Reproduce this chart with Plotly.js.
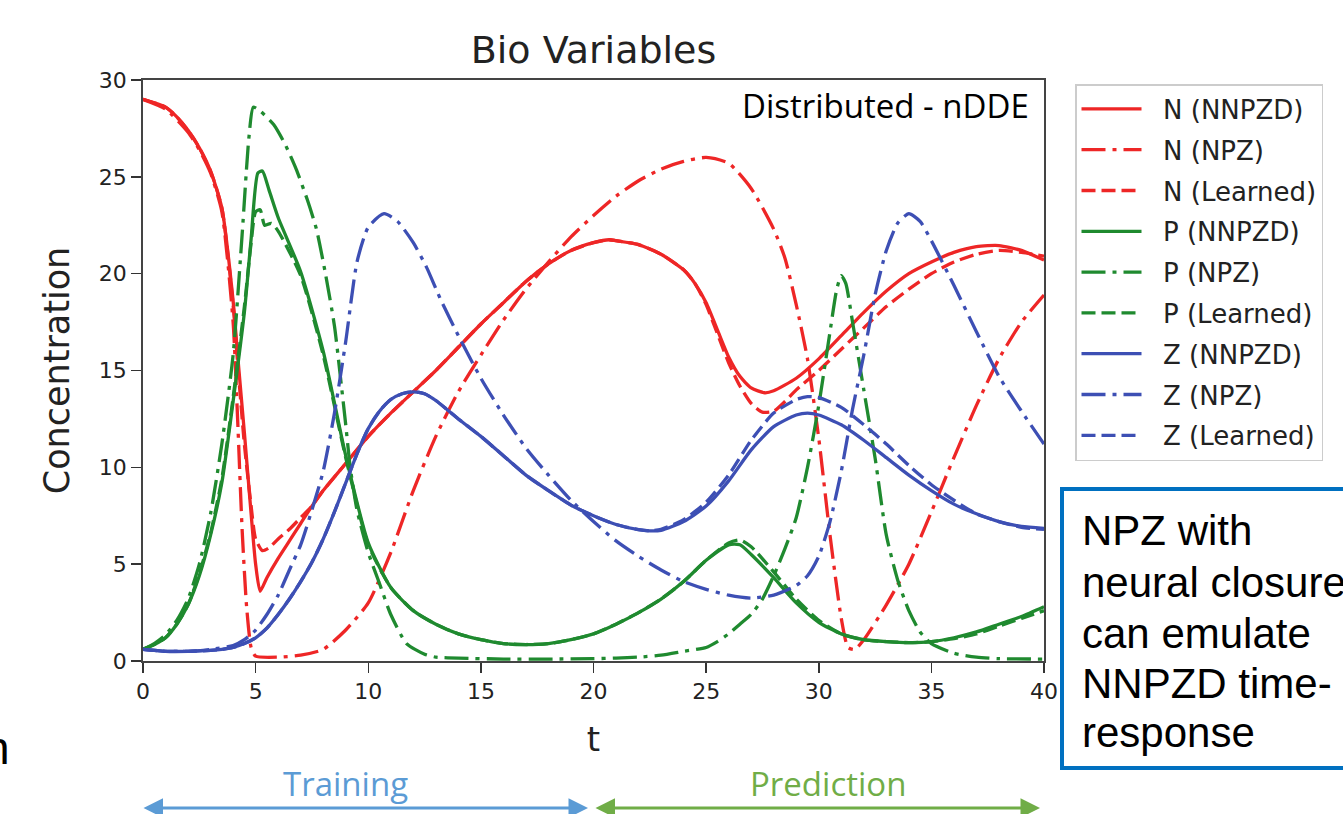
<!DOCTYPE html>
<html><head><meta charset="utf-8">
<script src="https://cdn.plot.ly/plotly-3.0.1.min.js"></script>
<style>html,body{margin:0;padding:0;background:#fff}#chart{width:1343px;height:814px}</style>
</head><body><div id="chart"></div>
<script>
// ---------------- data ----------------
var t_N_NNPZD = [0,1,1.5,2,2.5,3,3.5,4,4.2,4.5,4.8,5,5.2,5.5,6,6.5,7,7.5,8,9,10,11,12,13,14,15,16,17,18,19,20,20.7,21,22,23,24,24.5,25,25.5,26,26.5,27,27.6,28,29,30,31,32,33,34,35,36,37,38,39,40];
var N_NNPZD   = [29.0,28.6,28.1,27.4,26.5,25.3,23.4,18.6,15.8,11.8,7.6,5.0,3.6,4.3,5.3,6.2,7.1,8.0,8.8,10.2,11.6,12.8,13.9,15.0,16.2,17.4,18.5,19.6,20.5,21.2,21.6,21.75,21.7,21.5,21.0,20.2,19.5,18.5,17.1,15.7,14.7,14.1,13.85,13.95,14.6,15.6,16.8,18.0,19.1,20.0,20.6,21.1,21.4,21.45,21.2,20.7];

var t_N_NPZ = [0,1,2,2.5,3,3.5,4,4.2,4.4,4.6,4.8,5,6,7,8,9,10,11,12,13,14,15,16,17,18,19,20,21,22,23,24,25,26,27,28,28.5,29,29.5,30,30.5,31,31.3,31.6,32,33,34,35,36,37,38,39,40];
var N_NPZ   = [29.0,28.5,27.3,26.4,25.2,23.2,17.5,12.5,6.8,2.8,0.7,0.25,0.2,0.3,0.6,1.6,3.0,5.6,8.8,11.6,13.9,15.8,17.6,19.2,20.6,21.9,23.0,24.0,24.8,25.4,25.8,26.0,25.7,24.4,22.3,20.8,18.4,15.6,11.5,6.5,2.2,0.7,0.6,1.1,2.9,5.0,7.7,10.5,13.2,15.6,17.5,18.9];

var t_N_Learned = [0,1,1.5,2,2.5,3,3.5,4,4.2,4.5,4.8,5,5.3,5.6,6,6.5,7,7.5,8,9,10,11,12,13,14,15,16,17,18,19,20,20.7,21,22,23,24,24.5,25,25.5,26,26.5,27,27.5,28,28.5,29,30,31,32,33,34,35,36,37,38,39,40];
var N_Learned   = [29.0,28.6,28.1,27.4,26.5,25.3,23.4,18.4,15.4,11.2,8.0,6.3,5.7,5.85,6.3,6.8,7.4,8.0,8.8,10.2,11.6,12.8,13.9,15.0,16.2,17.4,18.5,19.6,20.5,21.2,21.6,21.75,21.7,21.5,21.0,20.2,19.5,18.4,16.9,15.4,14.2,13.3,12.85,12.9,13.4,14.0,15.0,16.1,17.2,18.3,19.2,20.0,20.6,21.0,21.2,21.1,20.9];

var t_P_NNPZD = [0,0.5,1,1.5,2,2.5,3,3.5,4,4.5,4.8,5.1,5.3,5.6,6,7,8,9,10,11,12,13,14,15,16,17,18,19,20,21,22,23,24,25,26,26.5,27,28,29,30,31,32,33,34,35,36,37,38,39,40];
var P_NNPZD   = [0.6,0.85,1.2,1.9,2.9,4.4,6.5,9.2,13.4,18.0,21.8,25.2,25.3,24.3,22.9,20.1,16.0,10.6,6.1,3.8,2.6,1.9,1.4,1.1,0.9,0.85,0.9,1.1,1.4,1.9,2.5,3.2,4.1,5.2,6.0,6.0,5.5,4.3,3.0,2.0,1.4,1.1,1.0,0.95,1.0,1.2,1.5,1.9,2.3,2.8];

var t_P_NPZ = [0,0.5,1,1.5,2,2.5,3,3.5,4,4.4,4.7,4.9,5.2,5.8,6.3,6.8,7.3,7.7,8.1,8.5,8.8,9,9.2,9.5,10,10.5,11,11.7,12.5,13,14,16,18,20,21,22,23,24,25,25.5,26,26.5,27,27.5,28,28.5,29,29.5,30,30.5,30.8,31,31.2,31.5,32,32.5,33,33.5,34,34.5,35,36,37,38,40];
var P_NPZ   = [0.6,0.9,1.35,2.1,3.2,5.0,7.6,11.2,15.8,22.0,27.0,28.6,28.4,27.7,26.7,25.4,23.8,22.3,20.0,17.3,14.3,12.2,10.0,7.8,5.6,4.0,2.4,0.9,0.35,0.2,0.15,0.1,0.1,0.12,0.15,0.2,0.3,0.5,0.7,1.0,1.4,1.9,2.4,3.2,4.4,5.8,7.4,10.0,13.2,17.0,19.2,19.9,19.5,17.5,14.0,10.5,6.5,4.2,2.6,1.5,0.9,0.4,0.2,0.12,0.1];

var t_P_Learned = [0,0.5,1,1.5,2,2.5,3,3.5,4,4.5,4.8,5.0,5.2,5.4,5.7,6,7,8,9,10,11,12,13,14,15,16,17,18,19,20,21,22,23,24,25,26,26.5,27,28,29,30,31,32,33,34,35,36,37,38,39,40];
var P_Learned   = [0.6,0.85,1.2,1.9,2.9,4.5,6.6,9.4,13.6,18.3,21.6,23.2,23.3,22.5,22.6,22.2,19.9,15.8,10.5,6.0,3.8,2.6,1.9,1.4,1.1,0.9,0.85,0.9,1.1,1.4,1.9,2.5,3.2,4.1,5.2,6.1,6.25,5.9,4.6,3.2,2.1,1.4,1.1,1.0,0.95,1.0,1.15,1.4,1.8,2.2,2.6];

var t_Z_NNPZD = [0,1,2,3,3.5,4,4.5,5,5.5,6,6.5,7,7.5,8,8.5,9,9.5,10,10.5,11,11.5,12,12.5,13,14,15,16,17,18,19,20,21,22,22.5,23,24,25,26,27,28,29,29.5,30,31,32,33,34,35,36,37,38,39,40];
var Z_NNPZD   = [0.6,0.5,0.5,0.55,0.6,0.7,0.9,1.2,1.7,2.4,3.2,4.1,5.1,6.3,7.7,9.2,10.7,12.0,12.9,13.5,13.8,13.9,13.8,13.45,12.5,11.6,10.6,9.6,8.8,8.05,7.5,7.05,6.78,6.72,6.75,7.2,8.0,9.3,10.9,12.1,12.7,12.8,12.7,12.2,11.4,10.5,9.6,8.8,8.1,7.6,7.2,6.95,6.85];

var t_Z_NPZ = [0,1,2,3,4,4.5,5,5.5,6,6.5,7,7.5,8,8.5,9,9.5,10,10.7,11.3,12,12.6,13.2,14,15,16,17,18,19,20,21,22,23,24,25,26,27,28,29,29.5,30,30.5,31,31.5,32,32.5,33,33.5,34,34.5,35,36,37,38,39,40];
var Z_NPZ   = [0.6,0.5,0.5,0.6,0.8,1.1,1.6,2.4,3.4,4.7,6.0,7.8,9.8,12.8,16.5,20.6,22.4,23.1,22.7,21.6,20.3,18.7,16.8,14.6,12.7,11.0,9.6,8.3,7.2,6.2,5.4,4.7,4.1,3.7,3.4,3.25,3.4,3.9,4.4,5.4,7.2,9.8,13.0,15.8,18.9,21.2,22.6,23.1,22.7,21.7,19.4,17.0,14.7,12.9,11.2];

var t_Z_Learned = [0,1,2,3,3.5,4,4.5,5,5.5,6,6.5,7,7.5,8,8.5,9,9.5,10,10.5,11,11.5,12,12.5,13,14,15,16,17,18,19,20,21,22,22.5,23,24,25,26,27,28,29,29.5,30,31,32,33,34,35,36,37,38,39,40];
var Z_Learned   = [0.6,0.5,0.5,0.55,0.6,0.7,0.9,1.2,1.7,2.4,3.2,4.1,5.1,6.3,7.7,9.2,10.7,12.0,12.9,13.5,13.8,13.9,13.8,13.45,12.5,11.6,10.6,9.6,8.8,8.05,7.5,7.05,6.78,6.72,6.8,7.3,8.2,9.6,11.4,12.8,13.5,13.65,13.6,13.1,12.2,11.2,10.1,9.1,8.3,7.6,7.2,6.9,6.8];

var xTicks = [0,5,10,15,20,25,30,35,40];
var yTicks = [0,5,10,15,20,25,30];
var boxLines = ['NPZ with', 'neural closure', 'can emulate', 'NNPZD time-', 'response'];

// ---------------- styling ----------------
var RED = '#ee2626', GREEN = '#1f8a2f', BLUE = '#3d4fb4';
var SOLID = 'solid', DASHDOT = '24px,7px,4px,7px', DASHED = '14px,6px';
var PAD = '\u00a0\u00a0';

function tr(name, x, y, color, dash) {
  return {type:'scatter', mode:'lines', name:PAD + name, x:x, y:y, legendgroup:name,
    line:{color:color, width:3.3, dash:dash, shape:'spline', smoothing:0.6}};
}
var data = [
  tr('N (NNPZD)', t_N_NNPZD, N_NNPZD, RED, SOLID),
  tr('N (NPZ)', t_N_NPZ, N_NPZ, RED, DASHDOT),
  tr('N (Learned)', t_N_Learned, N_Learned, RED, DASHED),
  tr('P (NNPZD)', t_P_NNPZD, P_NNPZD, GREEN, SOLID),
  tr('P (NPZ)', t_P_NPZ, P_NPZ, GREEN, DASHDOT),
  tr('P (Learned)', t_P_Learned, P_Learned, GREEN, DASHED),
  tr('Z (NNPZD)', t_Z_NNPZD, Z_NNPZD, BLUE, SOLID),
  tr('Z (NPZ)', t_Z_NPZ, Z_NPZ, BLUE, DASHDOT),
  tr('Z (Learned)', t_Z_Learned, Z_Learned, BLUE, DASHED)
];

// plot area: left 143, right 1044, top 80, bottom 661
function px(p){return (p-143)/901;}
function py(p){return (661-p)/581;}

var annotations = [
  {xref:'paper', yref:'paper', x:px(1031), y:py(105), xanchor:'right', yanchor:'middle', showarrow:false,
   text:'Distributed - nDDE', font:{family:'Open Sans', size:33, color:'#000'}},
  {xref:'paper', yref:'paper', x:px(345), y:py(783), xanchor:'center', yanchor:'middle', showarrow:false,
   text:'Training', font:{family:'Open Sans', size:33, color:'#5B9BD5'}},
  {xref:'paper', yref:'paper', x:px(828), y:py(783), xanchor:'center', yanchor:'middle', showarrow:false,
   text:'Prediction', font:{family:'Open Sans', size:33, color:'#70AD47'}},
  {xref:'paper', yref:'paper', x:px(12), y:py(748), xanchor:'right', yanchor:'middle', showarrow:false,
   text:'n', font:{family:'Liberation Sans, Arial', size:46, color:'#000'}},
  {xref:'paper', yref:'paper', x:px(588), y:py(808), ax:-446, ay:0, axref:'pixel', ayref:'pixel', text:'',
   showarrow:true, arrowside:'end+start', arrowhead:2, startarrowhead:2, arrowsize:1.3, startarrowsize:1.3, arrowwidth:3, arrowcolor:'#5B9BD5'},
  {xref:'paper', yref:'paper', x:px(1040), y:py(808), ax:-446, ay:0, axref:'pixel', ayref:'pixel', text:'',
   showarrow:true, arrowside:'end+start', arrowhead:2, startarrowhead:2, arrowsize:1.3, startarrowsize:1.3, arrowwidth:3, arrowcolor:'#70AD47'}
];
var boxLineY = [530, 582, 633, 683, 733];
boxLines.forEach(function(s, i){
  annotations.push({xref:'paper', yref:'paper', x:px(1080), y:py(boxLineY[i]), xanchor:'left', yanchor:'middle', align:'left',
    showarrow:false, text:s, font:{family:'Liberation Sans, Arial', size:42, color:'#000'}});
});

var layout = {
  width:1343, height:814,
  margin:{l:143, r:299, t:80, b:153},
  paper_bgcolor:'#ffffff', plot_bgcolor:'#ffffff',
  font:{family:'DejaVu Sans, sans-serif', color:'#222'},
  title:{text:'Bio Variables', font:{size:38, color:'#222', family:'DejaVu Sans'}, x:0.5, xref:'paper', xanchor:'center', y:1-50/814, yref:'container', yanchor:'middle'},
  xaxis:{range:[0,40], tickvals:xTicks, ticks:'outside', ticklen:10, tickwidth:1.5, tickcolor:'#333',
    showline:true, mirror:true, linecolor:'#444', linewidth:1.8, showgrid:false, zeroline:false,
    tickfont:{size:22, color:'#222'}, title:{text:'t', font:{size:34, color:'#222'}, standoff:24}},
  yaxis:{range:[0,30], tickvals:yTicks, ticks:'outside', ticklen:10, tickwidth:1.5, tickcolor:'#333',
    showline:true, mirror:true, linecolor:'#444', linewidth:1.8, showgrid:false, zeroline:false,
    tickfont:{size:22, color:'#222'}, title:{text:'Concentration', font:{size:35, color:'#222'}, standoff:18}},
  legend:{x:px(1075), xanchor:'left', y:py(84), yanchor:'top', font:{size:26, color:'#222'},
    bordercolor:'#cccccc', borderwidth:1.5, bgcolor:'#ffffff', tracegroupgap:4, itemwidth:60},
  shapes:[
    {type:'rect', xref:'paper', yref:'paper', x0:px(1062), x1:px(1380), y0:py(768), y1:py(489),
     line:{color:'#0070c0', width:4}, fillcolor:'rgba(0,0,0,0)'}
  ],
  annotations:annotations
};

Plotly.newPlot('chart', data, layout, {displayModeBar:false, staticPlot:true});
</script>
</body></html>
